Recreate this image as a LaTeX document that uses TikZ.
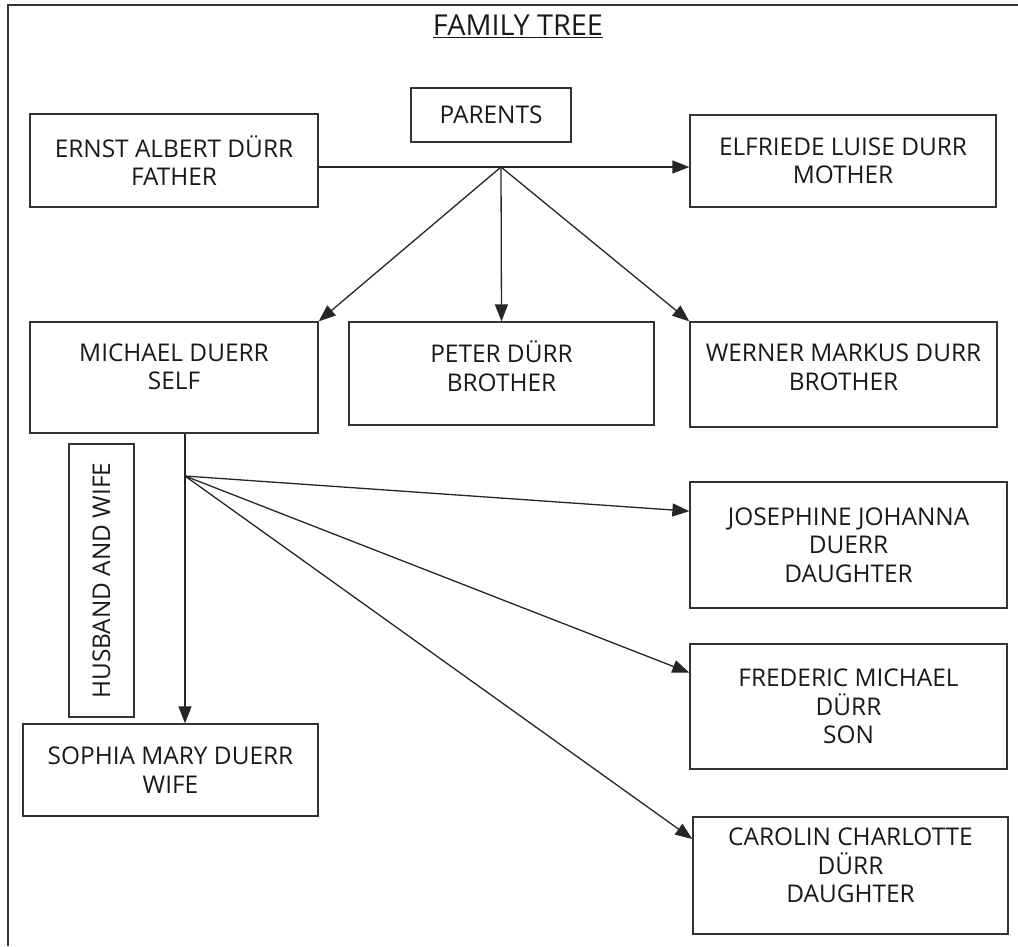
\documentclass[tikz,border=0pt]{standalone}
\usepackage{fontspec}
\setmainfont{Open Sans}
\usetikzlibrary{arrows.meta}
\begin{document}
\begin{tikzpicture}[x=1pt,y=-1pt,
	box/.style={draw=black!80, line width=1.3pt, align=center, inner sep=0pt, text=black!90,
		font=\fontsize{24.4}{28.5}\selectfont},
	link/.style={draw=black!85, line width=1.3pt, -{Triangle[length=17pt,width=13pt]}}]
	\useasboundingbox (0,0) rectangle (1018,946);
	\draw[line width=1.3pt, black!80] (8,946) -- (8,5) -- (1018,5);
	\node[font=\fontsize{28.8}{32}\selectfont, text=black!90] (title) at (518,26) {\underline{FAMILY TREE}};
	% parents
	\node[box, minimum width=160pt, minimum height=54pt] (parents) at (491,115) {PARENTS};
	\node[box, minimum width=288pt, minimum height=93pt] (father) at (174,160.5) {ERNST ALBERT DÜRR\\FATHER};
	\node[box, minimum width=306pt, minimum height=92pt] (mother) at (843,161) {ELFRIEDE LUISE DURR\\MOTHER};
	% children
	\node[box, minimum width=288pt, minimum height=111pt, text depth=22pt] (michael) at (174,377.5) {MICHAEL DUERR\\SELF};
	\node[box, minimum width=305pt, minimum height=103pt, text depth=15pt] (peter) at (501.5,373.5) {PETER DÜRR\\BROTHER};
	\node[box, minimum width=307pt, minimum height=105pt, text depth=15pt] (werner) at (843.5,374.5) {WERNER MARKUS DURR\\BROTHER};
	% wife
	\node[box, rotate=90, minimum width=273pt, minimum height=65pt] (couple) at (101.5,580.5) {HUSBAND AND WIFE};
	\node[box, minimum width=295pt, minimum height=92pt] (sophia) at (170.5,770) {SOPHIA MARY DUERR\\WIFE};
	% grandchildren
	\node[box, minimum width=317pt, minimum height=126pt] (josephine) at (848.5,545) {JOSEPHINE JOHANNA\\DUERR\\DAUGHTER};
	\node[box, minimum width=317pt, minimum height=125pt] (frederic) at (848.5,706.5) {FREDERIC MICHAEL\\DÜRR\\SON};
	\node[box, minimum width=315pt, minimum height=117pt, text depth=20pt] (carolin) at (850.5,875.5) {CAROLIN CHARLOTTE\\DÜRR\\DAUGHTER};

	\coordinate (fork) at (501,167);
	\coordinate (split) at (185,476);
	\draw[link] (father.east |- fork) -- (mother.west |- fork);
	\draw[link] (fork) -- (michael.north east);
	\draw[link] (fork) -- (peter.north);
	\draw[link] (fork) -- (werner.north west);
	\draw[link] (michael.south -| split) -- (sophia.north -| split);
	\draw[link] (split) -- (josephine.168);
	\draw[link] (split) -- (frederic.168);
	\draw[link] (split) -- (carolin.167);
\end{tikzpicture}
\end{document}
